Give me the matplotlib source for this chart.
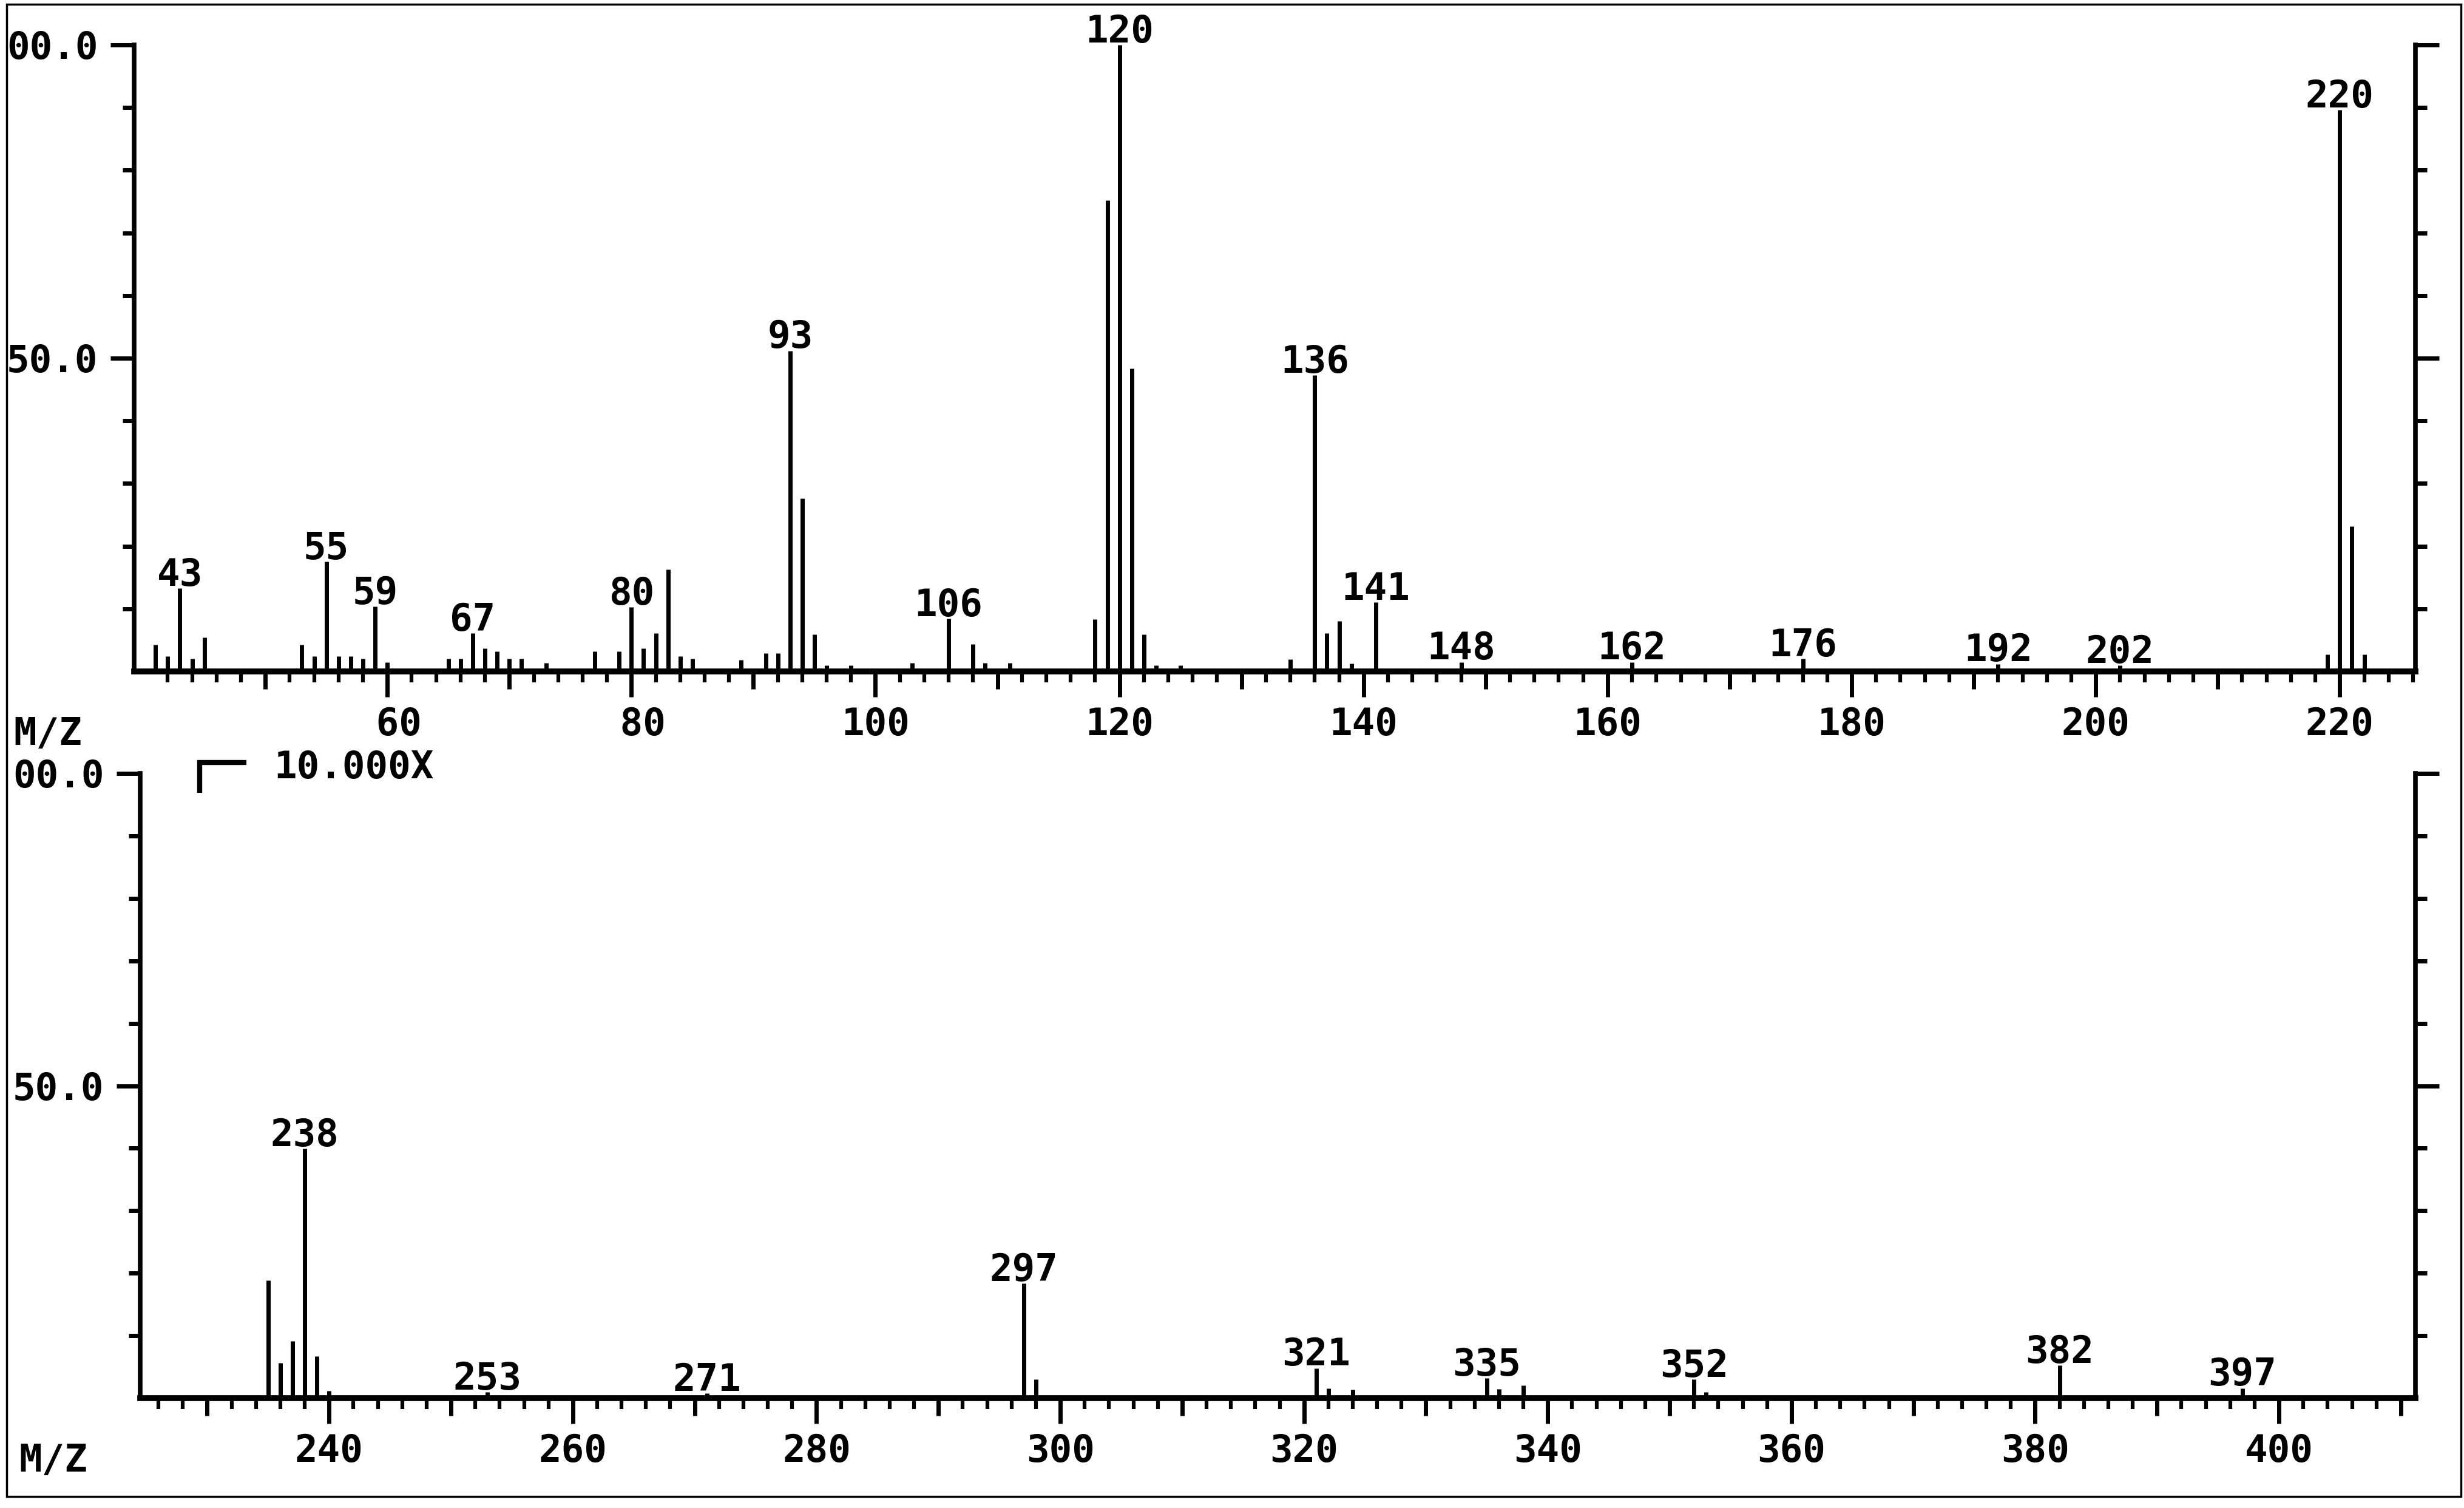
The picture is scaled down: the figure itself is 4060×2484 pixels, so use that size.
import matplotlib
matplotlib.use("Agg")
import matplotlib.pyplot as plt
from matplotlib.ticker import FixedLocator, FixedFormatter, NullLocator
from matplotlib.lines import Line2D
from matplotlib.patches import Rectangle

plt.rcParams['font.family'] = ['DejaVu Sans Mono', 'DejaVu Sans']
plt.rcParams['font.weight'] = 'bold'

# ---------------- data ----------------
top_mz = [41, 42, 43, 44, 45, 53, 54, 55, 56, 57, 58, 59, 60, 65, 66, 67, 68, 69, 70, 71,
          73, 77, 79, 80, 81, 82, 83, 84, 85, 89, 91, 92, 93, 94, 95, 96, 98, 103, 106,
          108, 109, 111, 118, 119, 120, 121, 122, 123, 125, 134, 136, 137, 138, 139, 141,
          148, 162, 176, 192, 202, 219, 220, 221, 222]
top_int = [4.3, 2.4, 13.3, 2.0, 5.4, 4.3, 2.4, 17.5, 2.4, 2.4, 2.0, 10.4, 1.5, 2.0, 2.0, 6.1,
           3.7, 3.2, 2.0, 2.0, 1.4, 3.2, 3.2, 10.3, 3.7, 6.1, 16.3, 2.4, 2.0, 1.8, 2.9, 2.9,
           51.2, 27.6, 5.9, 1.0, 1.0, 1.4, 8.4, 4.4, 1.4, 1.4, 8.3, 75.2, 100.0, 48.4, 5.9,
           1.0, 1.0, 1.9, 47.3, 6.1, 8.0, 1.3, 11.0, 1.5, 1.5, 2.0, 1.2, 1.0, 2.7, 89.6,
           23.2, 2.7]
top_labels = [43, 55, 59, 67, 80, 93, 106, 120, 136, 141, 148, 162, 176, 192, 202, 220]

bot_mz = [235, 236, 237, 238, 239, 240, 253, 271, 297, 298, 321, 322, 324, 335, 336, 338,
          352, 353, 382, 397]
bot_int = [18.9, 5.6, 9.1, 39.9, 6.7, 1.2, 1.0, 0.8, 18.4, 3.0, 4.8, 1.6, 1.4, 3.2, 1.5,
           2.0, 3.0, 1.0, 5.2, 1.6]
bot_labels = [238, 253, 271, 297, 321, 335, 352, 382, 397]

top_xticks = [60, 80, 100, 120, 140, 160, 180, 200, 220]
top_xticklabels = [' 60', ' 80', '100', '120', '140', '160', '180', '200', '220']
bot_xticks = [240, 260, 280, 300, 320, 340, 360, 380, 400]
bot_xticklabels = ['240', '260', '280', '300', '320', '340', '360', '380', '400']
yticks = [50, 100]
yticklabels = ['50.0', '00.0']
y_minor = [10, 20, 30, 40, 60, 70, 80, 90]
top_xlim = (39.25, 226.2)
bot_xlim = (224.5, 411.2)

# ---------------- figure ----------------
W, H = 4060, 2484
fig = plt.figure(figsize=(W / 100, H / 100), dpi=100)
fig.patch.set_facecolor('white')
FS = 45


def px_axes(left, right, top, base):
    return fig.add_axes([left / W, 1 - base / H, (right - left) / W, (base - top) / H])


def draw_panel(ax, mz, inten, labels, xlim, xt, xtl):
    ax.set_xlim(*xlim)
    ax.set_ylim(0, 100)
    ax.vlines(mz, 0, inten, colors='black', lw=5, capstyle='butt', zorder=2)
    lookup = dict(zip(mz, inten))
    for m in labels:
        ax.text(m, lookup[m] + 0.4, str(m), ha='center', va='baseline',
                fontsize=FS, fontweight='bold', clip_on=False, zorder=3)
    for s in ['top']:
        ax.spines[s].set_visible(False)
    ax.spines['bottom'].set_linewidth(7)
    ax.spines['left'].set_linewidth(5.5)
    ax.spines['right'].set_linewidth(5.5)
    ax.set_facecolor('none')

    # x ticks: long at 20s, short every 2
    ax.xaxis.set_major_locator(FixedLocator(xt))
    ax.xaxis.set_major_formatter(FixedFormatter(xtl))
    lo, hi = int(xlim[0]) + 1, int(xlim[1])
    minor = [v for v in range(lo, hi + 1) if v % 2 == 0 and v % 10 != 0]
    ax.xaxis.set_minor_locator(FixedLocator(minor))
    ax.tick_params(axis='x', which='major', length=30, width=5, pad=12,
                   labelsize=FS, direction='out')
    ax.tick_params(axis='x', which='minor', length=13, width=4.5, direction='out')
    # medium ticks at odd tens
    medium = [v for v in range(lo, hi + 1) if v % 10 == 0 and v % 20 != 0]
    sec = ax.secondary_xaxis('bottom')
    sec.set_xticks(medium)
    sec.xaxis.set_minor_locator(NullLocator())
    sec.tick_params(axis='x', length=21, width=5, labelbottom=False)
    sec.spines['bottom'].set_visible(False)

    # y ticks
    ax.yaxis.set_major_locator(FixedLocator(yticks))
    ax.yaxis.set_major_formatter(FixedFormatter(yticklabels))
    ax.yaxis.set_minor_locator(FixedLocator(y_minor))
    ax.tick_params(axis='y', which='major', length=28, width=5, pad=15,
                   labelsize=FS, left=True, right=True, labelright=False)
    ax.tick_params(axis='y', which='minor', length=14, width=5, left=True, right=True)
    for lab in ax.get_xticklabels() + ax.get_yticklabels():
        lab.set_fontweight('bold')


ax1 = px_axes(221, 3980, 74, 1106)
draw_panel(ax1, top_mz, top_int, top_labels, top_xlim, top_xticks, top_xticklabels)

ax2 = px_axes(231, 3980, 1274, 2303)
draw_panel(ax2, bot_mz, bot_int, bot_labels, bot_xlim, bot_xticks, bot_xticklabels)

# annotations
fig.text(22 / W, 1 - 1227 / H, 'M/Z', ha='left', va='baseline', fontsize=FS, fontweight='bold')
fig.text(31 / W, 1 - 2424 / H, 'M/Z', ha='left', va='baseline', fontsize=FS, fontweight='bold')
fig.text(451 / W, 1 - 1282 / H, '10.000X', ha='left', va='baseline', fontsize=FS,
         fontweight='bold')
fig.add_artist(Line2D([329 / W, 329 / W, 406 / W], [1 - 1306 / H, 1 - 1256 / H, 1 - 1256 / H],
                      lw=6, color='black', solid_capstyle='butt', solid_joinstyle='miter'))

# outer frame
fig.add_artist(Rectangle((11 / W, 1 - 2465 / H), (4055 - 11) / W, (2465 - 7) / H,
                         transform=fig.transFigure, fill=False, lw=2.5, ec='black'))

fig.savefig('out.png', dpi=100, facecolor='white')
